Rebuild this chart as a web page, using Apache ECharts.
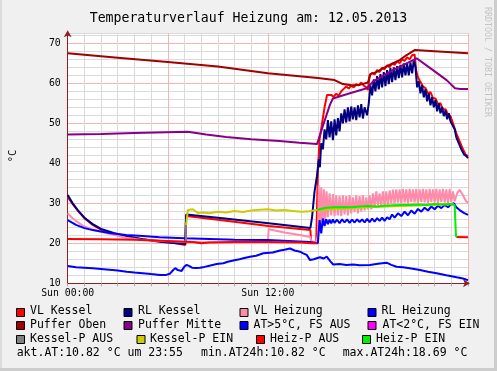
<!DOCTYPE html>
<html><head><meta charset="utf-8">
<script src="https://cdn.jsdelivr.net/npm/echarts@6/dist/echarts.min.js"></script>
<style>html,body{margin:0;padding:0;background:#f0f0f0;}#c{width:497px;height:371px;}</style>
</head><body><div id="c"></div>
<script>
// ---- DATA (hours since 00:00, °C) ----
const titleText = 'Temperaturverlauf Heizung am: 12.05.2013';
const xTickLabels = {0: 'Sun 00:00', 12: 'Sun 12:00'};
const seriesNames = ['VL Kessel','RL Kessel','VL Heizung','RL Heizung','Puffer Oben','Puffer Mitte','AT>5°C, FS AUS','AT<2°C, FS EIN','Kessel-P AUS','Kessel-P EIN','Heiz-P AUS','Heiz-P EIN'];
const seriesColors = ['#ff0000','#000080','#ff8aaa','#0000ff','#a00000','#880088','#0000ff','#ff00ff','#808080','#cccc00','#ff0000','#00f000'];
const statsText = ['akt.AT:10.82 °C um 23:55','min.AT24h:10.82 °C','max.AT24h:18.69 °C'];

const vlKessel = [[0,31.6],[0.3,29.8],[0.6,28.2],[1.0,26.3],[1.5,24.6],[2.0,23.4],[2.5,22.6],[3.0,22.0],[3.5,21.5],[4.5,21.0],[5.5,20.6],[6.5,20.0],[7.05,19.6],[7.1,26.8],[9,25.9],[12.05,24.3],[14.55,23.3],[14.6,20.2],[14.9,20.1],[15.0,38],[15.1,46],[15.25,50],[15.4,54],[15.55,57.1],[15.65,57.6],[15.8,57.1],[15.95,56.6],[16.1,57.4],[16.25,56.9],[16.4,58],[16.55,58.6],[16.7,59.2],[16.85,58.7],[17.0,59.4],[17.15,59.0],[17.3,59.8],[17.45,59.5],[17.6,60.2],[17.75,59.4],[17.9,59.0],[18.0,58.3],[18.1,62.0],[18.25,62.6],[18.4,62.2],[18.55,63.3],[18.7,62.8],[18.85,63.9],[19.0,63.5],[19.15,64.5],[19.3,64.0],[19.45,65.0],[19.6,64.6],[19.75,65.5],[19.9,65.0],[20.05,66.0],[20.2,65.6],[20.35,66.5],[20.5,66.0],[20.65,67.0],[20.8,67.2],[20.9,63.0],[21.0,61.5],[21.15,60.3],[21.3,59.2],[21.45,58.8],[21.6,57.5],[21.75,57.8],[21.9,56.3],[22.05,56.2],[22.2,54.8],[22.35,55.0],[22.5,53.4],[22.65,53.5],[22.8,52.2],[22.95,51.8],[23.1,50.0],[23.3,47.5],[23.5,45.5],[23.7,43.5],[23.85,42.2],[24.0,41.8]];

const rlKessel = [[0,32.1],[0.3,30.0],[0.6,28.3],[1.0,26.4],[1.5,24.8],[2.0,23.6],[2.8,22.5],[3.5,21.8],[4.5,21.0],[5.5,20.4],[6.5,20.0],[7.05,19.8],[7.1,27.2],[9,26.4],[12.05,25.0],[14.55,23.8],[14.65,26.5],[14.8,33],[14.95,37],[15.05,41],[15.12,39],[15.2,45],[15.3,43.5],[15.4,48.5],[15.5,46],[15.6,50.8],[15.7,46.5],[15.8,50.5],[15.9,45.8],[16.0,51.0],[16.1,47.0],[16.2,51.3],[16.3,48.0],[16.4,52.5],[16.5,50.0],[16.6,53.5],[16.7,50.2],[16.8,54.0],[16.9,50.5],[17.0,54.2],[17.1,51.0],[17.2,54.0],[17.3,50.8],[17.4,54.5],[17.5,51.5],[17.6,54.8],[17.7,51.2],[17.8,54.0],[17.95,52.0],[18.05,55],[18.15,59.5],[18.25,57.0],[18.35,61.0],[18.45,58.0],[18.55,61.8],[18.65,58.5],[18.75,62.3],[18.85,59.0],[18.95,62.8],[19.05,59.3],[19.15,63.3],[19.25,59.8],[19.35,63.8],[19.45,60.3],[19.55,64.0],[19.65,60.8],[19.75,64.3],[19.85,61.3],[19.95,64.6],[20.05,61.5],[20.15,65.0],[20.25,62.0],[20.35,65.0],[20.45,62.0],[20.55,65.2],[20.65,62.5],[20.75,65.8],[20.85,64.0],[20.95,59.0],[21.05,60.5],[21.15,57.5],[21.25,59.5],[21.35,56.5],[21.45,58.5],[21.55,55.5],[21.65,57.5],[21.75,54.5],[21.85,56.5],[21.95,54.0],[22.05,55.8],[22.15,53.0],[22.25,55.0],[22.35,52.5],[22.45,54.0],[22.55,51.8],[22.65,53.2],[22.75,51.0],[22.85,52.5],[22.95,50.5],[23.05,51.0],[23.2,48.5],[23.3,46.5],[23.45,45.0],[23.6,43.5],[23.75,42.3],[23.9,41.8],[24.0,41.3]];

const vlHeizung = [[0,27.5],[0.3,26.2],[0.7,25.0],[1.0,24.2],[1.5,23.4],[2.5,22.4],[3.5,21.4],[4.5,20.8],[6,20.5],[8,20.3],[10,20.2],[12.0,20.3],[12.05,23.5],[13,22.7],[14,22.0],[14.55,21.6],[14.6,20.5],[14.9,20.3],[15.0,22.0],[15.05,34.5],[15.12,23.0],[15.2,34.0],[15.28,24.5],[15.36,33.5],[15.44,25.5],[15.52,33.0],[15.6,26.5],[15.7,32.5],[15.8,27.0],[15.9,32.3],[16.0,26.8],[16.1,32.0],[16.2,27.0],[16.3,31.8],[16.4,26.8],[16.5,32.0],[16.6,27.2],[16.7,31.8],[16.8,27.0],[16.9,32.0],[17.0,27.5],[17.1,31.5],[17.2,27.8],[17.3,32.0],[17.4,27.5],[17.5,31.8],[17.6,28.0],[17.7,32.0],[17.8,28.2],[17.9,31.5],[18.0,28.5],[18.1,32.0],[18.2,28.5],[18.3,32.5],[18.4,29.0],[18.5,33.0],[18.6,29.5],[18.7,32.5],[18.8,29.5],[18.9,33.0],[19.0,29.3],[19.1,33.0],[19.2,29.7],[19.3,33.2],[19.4,30.0],[19.5,33.4],[19.6,30.0],[19.7,33.5],[19.8,30.2],[19.9,33.5],[20.0,30.0],[20.1,33.6],[20.2,30.2],[20.3,33.5],[20.4,30.0],[20.5,33.6],[20.6,30.3],[20.7,33.5],[20.8,30.2],[20.9,33.6],[21.0,30.0],[21.1,33.5],[21.2,30.3],[21.3,33.6],[21.4,30.2],[21.5,33.5],[21.6,30.0],[21.7,33.6],[21.8,30.3],[21.9,33.5],[22.0,30.2],[22.1,33.6],[22.2,30.0],[22.3,33.5],[22.4,30.3],[22.5,33.6],[22.6,30.2],[22.7,33.5],[22.8,30.0],[22.9,33.6],[23.0,30.3],[23.1,33.0],[23.2,30.5],[23.35,32.5],[23.5,33.4],[23.7,32.0],[23.9,30.4],[24.0,30.2]];

const rlHeizung = [[0,25.8],[0.5,24.6],[1.0,23.8],[1.5,23.3],[2.5,22.6],[3.5,22.1],[4.5,21.8],[5.5,21.5],[7.0,21.25],[8.5,21.1],[10,20.9],[12.0,20.8],[12.1,20.4],[14.5,20.3],[14.6,20.0],[15.0,20.0],[15.1,25.8],[15.2,22.5],[15.3,26.2],[15.4,24.3],[15.5,26.0],[15.6,24.8],[15.7,25.9],[15.8,25.0],[15.9,26.0],[16.0,25.1],[16.15,25.9],[16.3,25.0],[16.45,26.0],[16.6,25.2],[16.75,26.0],[16.9,25.1],[17.05,25.9],[17.2,25.2],[17.35,26.0],[17.5,25.3],[17.65,26.0],[17.8,25.2],[17.95,26.1],[18.1,25.3],[18.25,26.2],[18.4,25.4],[18.55,26.3],[18.7,25.6],[18.85,26.4],[19.0,25.6],[19.15,26.5],[19.3,26.0],[19.45,27.2],[19.6,26.4],[19.8,27.5],[20.0,26.8],[20.2,27.9],[20.4,27.0],[20.6,28.2],[20.8,27.4],[21.0,28.6],[21.2,27.9],[21.4,28.9],[21.6,28.2],[21.8,29.2],[22.0,28.5],[22.2,29.4],[22.4,28.8],[22.6,29.6],[22.8,29.0],[23.0,29.8],[23.15,30.0],[23.3,29.0],[23.5,28.3],[23.75,27.6],[24.0,27.1]];

const pufferOben = [[0,67.5],[3,66.4],[6,65.3],[9,64.2],[12,62.5],[15,61.3],[16,60.8],[16.5,59.8],[17,59.5],[17.5,59.6],[18,60.2],[18.15,62.3],[18.5,62.8],[19.1,64.2],[19.9,65.8],[20.3,67.0],[20.8,68.3],[22,68.0],[24,67.5]];

const pufferMitte = [[0,47.2],[2,47.3],[4,47.6],[7.2,47.9],[8.3,47.2],[9.5,46.6],[11,46.0],[12.7,45.6],[13.9,45.15],[14.95,44.8],[15.32,49.6],[15.72,54.6],[15.9,56.2],[16.92,57.5],[17.93,58.75],[18.3,60.4],[19.5,63.3],[20.32,65.0],[20.92,66.25],[21.9,63.3],[22.72,60.8],[23.22,58.75],[23.52,58.6],[24,58.6]];

const atAus = [[0,14.3],[0.5,14.0],[1.0,13.9],[1.5,13.75],[2.0,13.6],[2.5,13.4],[3.0,13.2],[3.54,12.9],[4.0,12.7],[4.5,12.5],[5.0,12.3],[5.53,12.1],[5.9,12.1],[6.13,12.4],[6.3,13.2],[6.45,13.8],[6.6,13.3],[6.83,13.1],[7.0,14.2],[7.13,14.6],[7.3,14.3],[7.45,13.9],[7.7,13.8],[7.93,13.9],[8.2,14.1],[8.5,14.4],[8.93,14.8],[9.33,15.0],[9.6,15.4],[9.93,15.7],[10.3,16.0],[10.53,16.25],[10.93,16.65],[11.3,16.9],[11.73,17.5],[12.3,17.7],[12.73,18.2],[13.0,18.4],[13.33,18.69],[13.6,18.2],[13.93,17.9],[14.12,17.5],[14.33,17.1],[14.53,15.8],[14.75,16.0],[14.93,16.25],[15.13,16.5],[15.35,16.2],[15.53,16.65],[15.75,15.5],[15.92,14.7],[16.3,14.8],[16.7,14.6],[17.12,14.7],[17.5,14.5],[18.12,14.6],[18.6,14.9],[19.12,15.15],[19.4,14.6],[19.72,14.15],[20.1,14.0],[20.6,13.7],[21.12,13.3],[21.6,12.9],[22.12,12.5],[22.7,12.0],[23.32,11.5],[23.7,11.2],[23.92,10.9],[24,10.82]];

const atEin = [];

const kesselPAus = [[7.09,20.2],[7.09,25.2]];

const kesselPEin = [[7.1,24.6],[7.2,28.3],[7.5,28.5],[7.8,27.6],[8.1,27.7],[8.5,27.5],[9.0,27.9],[9.5,27.7],[10.0,28.1],[10.5,27.8],[11.0,28.2],[11.5,28.4],[12.0,28.5],[12.5,28.2],[13.0,28.3],[13.5,28.1],[14.0,27.9],[14.5,28.0],[14.9,28.3],[15.0,28.4],[16,28.6],[18,29.0],[20,29.3],[22,29.6],[23.15,29.8]];

const heizPAus = [[0,21.1],[2,21.0],[4,20.9],[6,20.6],[7,20.4],[7.5,20.3],[8,20.0],[8.5,20.2],[10,20.3],[12,20.3],[14,20.2],[14.6,20.0],[14.95,20.0],[15.0,'-'],[23.3,21.6],[24,21.5]];

const heizPEin = [[14.95,28.3],[15.1,28.5],[15.5,28.9],[16,29.0],[16.5,29.1],[17,29.0],[17.5,29.2],[18,29.3],[18.5,29.2],[19,29.4],[19.5,29.5],[20,29.6],[20.5,29.6],[21,29.7],[21.5,29.6],[22,29.8],[22.5,29.7],[23.0,29.8],[23.1,30.2],[23.2,29.5],[23.28,21.8],[23.35,21.6]];

const seriesData = [vlKessel, rlKessel, vlHeizung, rlHeizung, pufferOben, pufferMitte, atAus, atEin, kesselPAus, kesselPEin, heizPAus, heizPEin];

// ---- CHART ----
const FONT = 'DejaVu Sans Mono';
const MAJOR = '#f3b4b4', MINOR = '#dadada', AXIS = '#902020';
const chart = echarts.init(document.getElementById('c'), null, {renderer: 'canvas'});

const series = seriesNames.map((n, i) => ({
  name: n, type: 'line', data: seriesData[i], showSymbol: false, symbol: 'none',
  connectNulls: false, animation: false,
  lineStyle: {color: seriesColors[i], width: 2}, itemStyle: {color: seriesColors[i]}
}));

// legend layout (graphic)
const legendPos = [
  [16.5,30,311.5],[124,138,311.5],[240,253.5,311.5],[368,381.5,311.5],
  [16.5,30,325.3],[124,138,325.3],[240,253.5,325.3],[368,382.5,325.3],
  [16.5,30,339],[137,150,339],[256.5,270,339],[362.5,376,339]
];
const graphics = [
  {type:'rect', shape:{x:0,y:0,width:2,height:371}, style:{fill:'#dcdcdc'}, silent:true},
  {type:'rect', shape:{x:494,y:0,width:3,height:371}, style:{fill:'#cdcdcd'}, silent:true},
  {type:'rect', shape:{x:0,y:368,width:497,height:3}, style:{fill:'#cdcdcd'}, silent:true},
  {type:'text', x:13, y:156, rotation:Math.PI/2, style:{text:'°C', x:0, y:0, align:'center', verticalAlign:'middle', font:'10.5px "DejaVu Sans Mono"', fill:'#000'}},
  {type:'text', x:487.5, y:7, rotation:-Math.PI/2, style:{text:'RRDTOOL / TOBI OETIKER', x:0, y:0, align:'left', verticalAlign:'middle', font:'8.3px "DejaVu Sans Mono"', fill:'#c4c4c4'}}
];
legendPos.forEach((p, i) => {
  graphics.push({type:'rect', shape:{x:p[0], y:Math.round(p[2]-4)+0.5, width:8, height:8}, style:{fill:seriesColors[i], stroke:'#000', lineWidth:1}});
  graphics.push({type:'text', x:p[1], y:p[2], style:{text:seriesNames[i], x:0, y:0, align:'left', verticalAlign:'middle', font:'11.5px "DejaVu Sans Mono"', fill:'#000'}});
});
[16.7, 201, 342.7].forEach((x, i) => {
  graphics.push({type:'text', x:x, y:352.7, style:{text:statsText[i], x:0, y:0, align:'left', verticalAlign:'middle', font:'11.5px "DejaVu Sans Mono"', fill:'#000'}});
});

chart.setOption({
  backgroundColor: '#f0f0f0',
  animation: false,
  title: {text: titleText, left: 'center', top: 7, textStyle: {fontFamily: FONT, fontSize: 13.2, fontWeight: 'normal', color: '#000'}},
  grid: {left: 67.7, right: 29, top: 33.3, bottom: 87.7, show: true, backgroundColor: '#ffffff', borderWidth: 0},
  xAxis: {
    type: 'value', min: 0, max: 24, interval: 1,
    axisLine: {show: true, onZero: false, lineStyle: {color: AXIS, width: 1}, symbol: ['none','arrow'], symbolSize: [6,7], symbolOffset: [0, 2]},
    axisTick: {show: true, length: 3, lineStyle: {color: '#aaaaaa'}},
    axisLabel: {margin: 5, fontFamily: FONT, fontSize: 9.8, color: '#000', showMinLabel: true, showMaxLabel: true,
      formatter: v => (xTickLabels[v] !== undefined ? xTickLabels[v] : '')},
    splitLine: {show: true, lineStyle: {color: [MAJOR, MINOR, MINOR, MINOR, MINOR, MINOR], width: 1}}
  },
  yAxis: {
    type: 'value', min: 10, max: 72.5, interval: 2,
    axisLine: {show: true, onZero: false, lineStyle: {color: AXIS, width: 1}, symbol: ['none','arrow'], symbolSize: [6,7], symbolOffset: [0, 3]},
    axisTick: {show: false},
    axisLabel: {margin: 7, fontFamily: FONT, fontSize: 9.8, color: '#000',
      formatter: v => (v % 10 === 0 ? String(v) : '')},
    splitLine: {show: true, lineStyle: {color: [MAJOR, MINOR, MINOR, MINOR, MINOR], width: 1}}
  },
  series: series,
  graphic: graphics
});
</script>
</body></html>
